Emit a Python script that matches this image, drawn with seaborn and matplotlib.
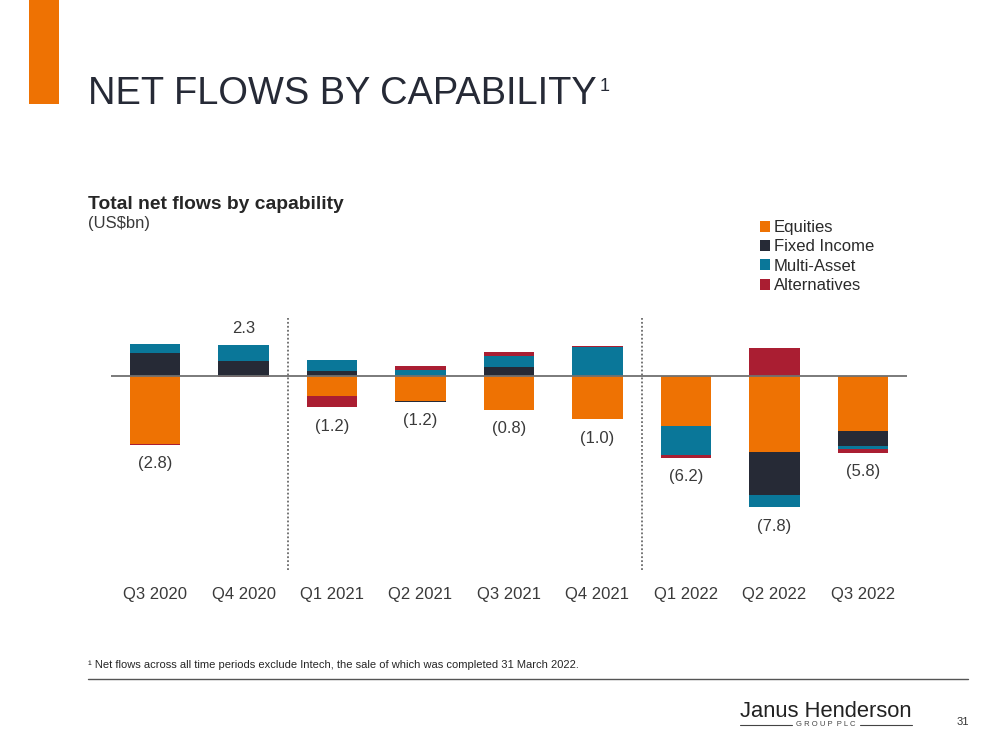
import matplotlib
matplotlib.use("Agg")
import matplotlib.pyplot as plt
from matplotlib.patches import Patch, Rectangle
from matplotlib.lines import Line2D
import numpy as np
import seaborn as sns

# ---------------- data (US$bn) ----------------
quarters = ["Q3 2020", "Q4 2020", "Q1 2021", "Q2 2021", "Q3 2021",
            "Q4 2021", "Q1 2022", "Q2 2022", "Q3 2022"]
equities = [-5.15, -0.03, -1.52, -1.90, -2.58, -3.29, -3.81, -5.78, -4.16]
fixed_income = [1.77, 1.13, 0.40, -0.08, 0.68, 0.00, 0.00, -3.26, -1.14]
multi_asset = [0.64, 1.22, 0.79, 0.48, 0.81, 2.17, -2.17, -0.91, -0.20]
alternatives = [-0.06, -0.02, -0.86, 0.30, 0.30, 0.12, -0.22, 2.15, -0.30]
series_names = ["Equities", "Fixed Income", "Multi-Asset", "Alternatives"]
series_colors = ["#EE7203", "#262A36", "#0A7799", "#AA1E32"]

# ---------------- styling ----------------
sns.set_theme(style="white")
plt.rcParams["font.family"] = ["Liberation Sans", "DejaVu Sans"]

fig = plt.figure(figsize=(9.99, 7.5), dpi=100)
W, H = 999, 750

def fx(px):
    return px / W

def fy(py):
    return 1 - py / H

# axes placement
ax_top_px, ax_bot_px, base_px, scale = 318, 570, 376, 13.2
ax = fig.add_axes([fx(111), fy(ax_bot_px), fx(907) - fx(111), (ax_bot_px - ax_top_px) / H])

values = np.array([equities, fixed_income, multi_asset, alternatives])
pos = np.clip(values, 0, None).cumsum(axis=0)
neg = np.clip(values, None, 0).cumsum(axis=0)

# draw outermost first so inner segments overlay (diverging stack)
for i in range(len(series_names) - 1, -1, -1):
    for cum in (pos[i], neg[i]):
        sns.barplot(x=quarters, y=cum, color=series_colors[i], saturation=1,
                    width=0.57, errorbar=None, linewidth=0, ax=ax, zorder=2)

ax.set_xlim(-0.5, len(quarters) - 0.5)
ax.set_ylim(-(ax_bot_px - base_px) / scale, (base_px - ax_top_px) / scale)
ax.axhline(0, color="#707070", lw=1.3, zorder=3)
for xv in (1.5, 5.5):
    ax.axvline(xv, color="#6a6a6a", lw=1.3, linestyle=(0, (1, 1.2)), zorder=1)

for s in ax.spines.values():
    s.set_visible(False)
ax.set_yticks([])
ax.set_ylabel("")
ax.set_xlabel("")
ax.tick_params(axis="x", length=0, pad=12, labelsize=12, labelcolor="#3a3a3a")

# totals labels
totals = values.sum(axis=0)
for i, t in enumerate(totals):
    if t >= 0:
        ax.annotate(f"{t:.1f}", (i, pos[-1][i]), xytext=(0, 12), textcoords="offset points",
                    ha="center", va="center", fontsize=12, color="#3a3a3a")
    else:
        ax.annotate(f"({abs(t):.1f})", (i, neg[-1][i]), xytext=(0, -13.5), textcoords="offset points",
                    ha="center", va="center", fontsize=12, color="#3a3a3a")

# legend
handles = [Patch(facecolor=c, edgecolor="none", label=n) for n, c in zip(series_names, series_colors)]
fig.legend(handles=handles, loc="upper left", bbox_to_anchor=(fx(760), fy(220)),
           frameon=False, fontsize=12, handlelength=0.62, handleheight=0.62,
           handletextpad=0.2, labelspacing=0.26, borderaxespad=0, borderpad=0,
           labelcolor="#2a2a2a")

# titles
fig.patches.append(Rectangle((fx(29), fy(104)), fx(30), 104 / H, transform=fig.transFigure,
                             facecolor="#EE7203", edgecolor="none"))
fig.text(fx(88), fy(104), "NET FLOWS BY CAPABILITY", fontsize=27.4, color="#262A36",
         va="baseline", ha="left")
fig.text(fx(600), fy(91), "1", fontsize=13, color="#262A36", va="baseline", ha="left")
fig.text(fx(88), fy(209), "Total net flows by capability", fontsize=13.9, fontweight="bold",
         color="#262626", va="baseline", ha="left")
fig.text(fx(88), fy(228), "(US$bn)", fontsize=12, color="#3a3a3a", va="baseline", ha="left")

# footnote
fig.text(fx(88), fy(668), "\u00b9 Net flows across all time periods exclude Intech, the sale of which was completed 31 March 2022.",
         fontsize=8.0, color="#262626", va="baseline", ha="left")
fig.add_artist(Line2D([fx(88), fx(968)], [fy(679), fy(679)], transform=fig.transFigure,
                      color="#555555", lw=1))

# logo and page number
fig.text(fx(826), fy(717), "Janus Henderson", fontsize=15.8, color="#222222",
         va="baseline", ha="center")
fig.text(fx(826), fy(725), "G R O U P  P L C", fontsize=5.5, color="#444444", va="center", ha="center")
fig.add_artist(Line2D([fx(740), fx(792)], [fy(725), fy(725)], transform=fig.transFigure, color="#444444", lw=0.8))
fig.add_artist(Line2D([fx(860), fx(912)], [fy(725), fy(725)], transform=fig.transFigure, color="#444444", lw=0.8))
fig.text(fx(963), fy(722), "31", fontsize=8, color="#333333", va="center", ha="center")

fig.savefig("out.png", dpi=100)
